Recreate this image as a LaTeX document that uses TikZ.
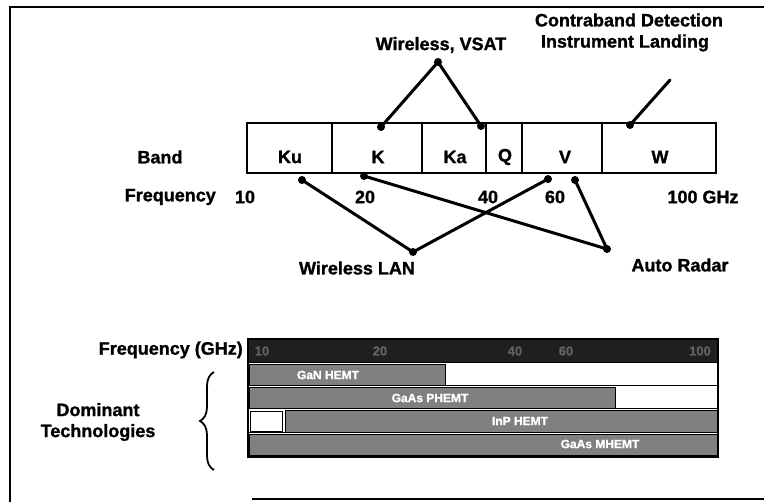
\documentclass[tikz,border=0pt]{standalone}
\usepackage{fontspec}
\setmainfont{Liberation Sans}[BoldFeatures={FakeBold=1.2}]
\usetikzlibrary{decorations.pathreplacing}
\begin{document}
\begin{tikzpicture}[x=1pt,y=-1pt,
  lbl/.style={font=\bfseries\fontsize{18}{21}\selectfont, inner sep=0pt},
  barlbl/.style={font=\bfseries\fontsize{12}{14}\selectfont, text=white, inner sep=0pt},
  scalelbl/.style={font=\bfseries\fontsize{13}{15}\selectfont, text=black!62, inner sep=0pt},
  conn/.style={line width=3pt, line cap=round},
  dotmark/.style={circle, fill=black, inner sep=0pt, minimum size=8pt},
  bandline/.style={line width=2.6pt},
  techbar/.style={fill=black!50, draw=black, line width=0.8pt},
  frame/.style={line width=2.4pt}]
\useasboundingbox (0,0) rectangle (764,502);
% outer frame
\draw[frame] (10,502) -- (10,7) -- (764,7);
\draw[line width=1.5pt] (252,499) -- (764,499);

% band box
\draw[bandline] (247,123) rectangle (716,173);
\foreach \x in {332,422,486,522,602} \draw[bandline] (\x,123) -- (\x,173);
\node[lbl] (band) at (160,157) {Band};
\node[lbl] (ku) at (290,157) {Ku};
\node[lbl] (k) at (378,157) {K};
\node[lbl] (ka) at (455,157) {Ka};
\node[lbl] (q) at (505,157) {Q};
\node[lbl] (v) at (565,157) {V};
\node[lbl] (w) at (660,157) {W};

% frequency scale
\node[lbl, anchor=east] (freq) at (216,197) {Frequency};
\node[lbl] (f10) at (245,197) {10};
\node[lbl] (f20) at (365,197) {20};
\node[lbl] (f40) at (488,197) {40};
\node[lbl] (f60) at (555,197) {60};
\node[lbl] (f100) at (703,197) {100 GHz};

% application labels
\node[lbl] (cd) at (629,20) {Contraband Detection};
\node[lbl] (il) at (625,43) {Instrument Landing};
\node[lbl] (vsat) at (441,45) {Wireless, VSAT};
\node[lbl] (lan) at (357,268) {Wireless LAN};
\node[lbl] (radar) at (680,265) {Auto Radar};

% dots
\node[dotmark] (vs1) at (381,127) {};
\node[dotmark] (vs2) at (481,126) {};
\node[dotmark] (vsa) at (438,62) {};
\node[dotmark] (cd1) at (630,125) {};
\coordinate (cde) at (670,80);
\node[dotmark] (ku1) at (302,180) {};
\node[dotmark] (k1) at (364,176) {};
\node[dotmark] (v1) at (548,179) {};
\node[dotmark] (v2) at (575,180) {};
\node[dotmark] (lana) at (413,252) {};
\node[dotmark] (rada) at (607,249) {};

% connectors
\draw[conn] (vs1.center) -- (vsa.center) -- (vs2.center);
\draw[conn] (cd1.center) -- (cde);
\draw[conn] (ku1.center) -- (lana.center) -- (v1.center);
\draw[conn] (k1.center) -- (rada.center) -- (v2.center);

% technology chart
\node[lbl, anchor=east] (fghz) at (243,350) {Frequency (GHz)};
\fill[black!88] (248,339) rectangle (718,362);
\node[scalelbl] (s10) at (262,351) {10};
\node[scalelbl] (s20) at (380,351) {20};
\node[scalelbl] (s40) at (515,351) {40};
\node[scalelbl] (s60) at (566,351) {60};
\node[scalelbl] (s100) at (700,351) {100};
\draw[techbar] (249,364) rectangle (445,385);
\draw[techbar] (249,387) rectangle (615,408);
\draw[fill=white, draw=black, line width=0.8pt] (250,411) rectangle (282,431);
\draw[techbar] (285,410) rectangle (717,432);
\draw[techbar] (249,434) rectangle (717,455);
\draw[line width=1.4pt] (248,339) rectangle (718,457);
\draw[line width=1pt] (248,363) -- (718,363);
\draw[line width=1pt] (248,386) -- (718,386);
\draw[line width=1pt] (248,409) -- (718,409);
\draw[line width=1pt] (248,433) -- (718,433);
\node[barlbl] (gan) at (328,375) {GaN HEMT};
\node[barlbl] (gaas) at (430,398) {GaAs PHEMT};
\node[barlbl] (inp) at (520,421) {InP HEMT};
\node[barlbl] (mhemt) at (600,444) {GaAs MHEMT};

% brace and label
\coordinate (br1) at (214,470);
\coordinate (br2) at (214,372);
\draw[line width=1.8pt, decorate, decoration={brace, amplitude=14pt}] (br1) -- (br2);
\node[lbl, align=center] (dom) at (98,422) {Dominant\\Technologies};
\end{tikzpicture}
\end{document}
